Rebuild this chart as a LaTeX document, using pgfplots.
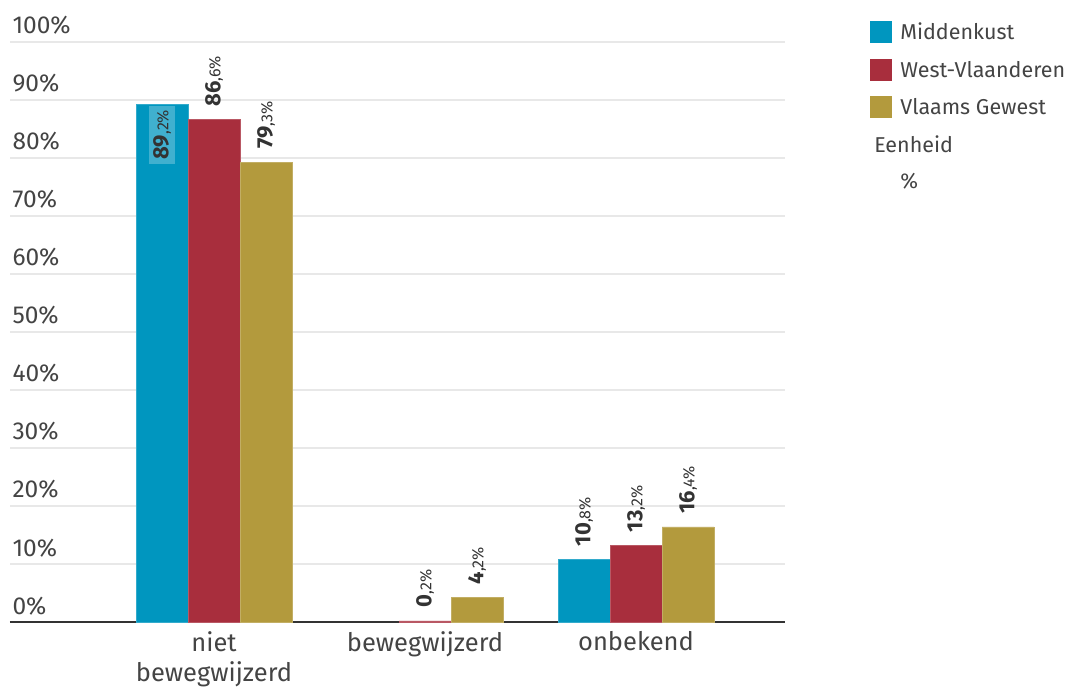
\documentclass[border=0pt]{standalone}
\usepackage{pgfplots}
\pgfplotsset{compat=1.18}
\usepackage{fontspec}
\setmainfont{Fira Sans}
\definecolor{cblue}{HTML}{0096BF}
\definecolor{cred}{HTML}{A82E3D}
\definecolor{cgold}{HTML}{B39A3D}
\definecolor{txt}{HTML}{444444}
\definecolor{lbl}{HTML}{333333}
\protected\def\lbl#1#2{\hspace*{13bp}{\fontsize{22bp}{24bp}\selectfont\bfseries #1}{\fontsize{16bp}{18bp}\selectfont ,#2\%}}
\protected\def\lblin#1#2{\llap{{\setlength{\fboxsep}{4bp}\colorbox{cblue!75!white}{\fontsize{22bp}{24bp}\selectfont\bfseries #1{\fontsize{16bp}{18bp}\selectfont\mdseries ,#2\%}}}\hspace*{2bp}}}
\begin{document}
\begin{tikzpicture}
\useasboundingbox (-10bp,-68bp) rectangle (1061bp,622bp);
\begin{axis}[
  at={(0,0)}, anchor=south west,
  width=775bp, height=580bp, scale only axis,
  xmin=-0.967, xmax=2.706, ymin=0, ymax=100,
  axis x line=bottom, axis y line=left,
  x axis line style={-, draw=black!80, line width=1.5bp},
  y axis line style={draw=none},
  major tick length=0pt,
  ymajorgrids, grid style={draw=black!9, line width=1.3bp},
  ytick={0,10,...,100},
  /pgf/number format/assume math mode=true,
  yticklabel={\pgfmathprintnumber{\tick}\%},
  yticklabel style={anchor=base west, xshift=-1bp, yshift=8bp, font=\fontsize{24.5bp}{26bp}\selectfont, text=txt},
  xtick={0,1,2},
  xticklabels={{niet\\bewegwijzerd},bewegwijzerd,onbekend},
  xticklabel style={align=center, yshift=-6bp, font=\fontsize{25.5bp}{30bp}\selectfont, text=txt},
  ybar=0pt, bar width=52bp,
  point meta=explicit symbolic,
  nodes near coords,
  every node near coord/.append style={rotate=90, anchor=west, inner sep=0pt, text=lbl},
  legend style={at={(1.106,1.040)}, anchor=north west, draw=none, fill=none,
    font=\fontsize{21.5bp}{24bp}\selectfont, text=txt, row sep=15.5bp,
    /tikz/every odd column/.append style={column sep=6bp}},
  legend cell align=left,
  legend image code/.code={\path[#1, draw=none] (0bp,-11bp) rectangle (22bp,11bp);},
  clip=false,
]
\addplot[fill=cblue, draw=cblue!80!white, line width=0.6bp] coordinates {(0,89.2) [\lblin{89}{2}] (2,10.8) [\lbl{10}{8}]};
\addplot[fill=cred, draw=cred!80!white, line width=0.6bp] coordinates {(0,86.6) [\lbl{86}{6}] (1,0.2) [\lbl{0}{2}] (2,13.2) [\lbl{13}{2}]};
\addplot[fill=cgold, draw=cgold!80!white, line width=0.6bp] coordinates {(0,79.3) [\lbl{79}{3}] (1,4.2) [\lbl{4}{2}] (2,16.4) [\lbl{16}{4}]};
\legend{Middenkust,West-Vlaanderen,Vlaams Gewest}
\addlegendimage{empty legend}
\addlegendentry{\hspace*{-26bp}Eenheid}
\addlegendimage{empty legend}
\addlegendentry{\%}
\end{axis}
\end{tikzpicture}
\end{document}
